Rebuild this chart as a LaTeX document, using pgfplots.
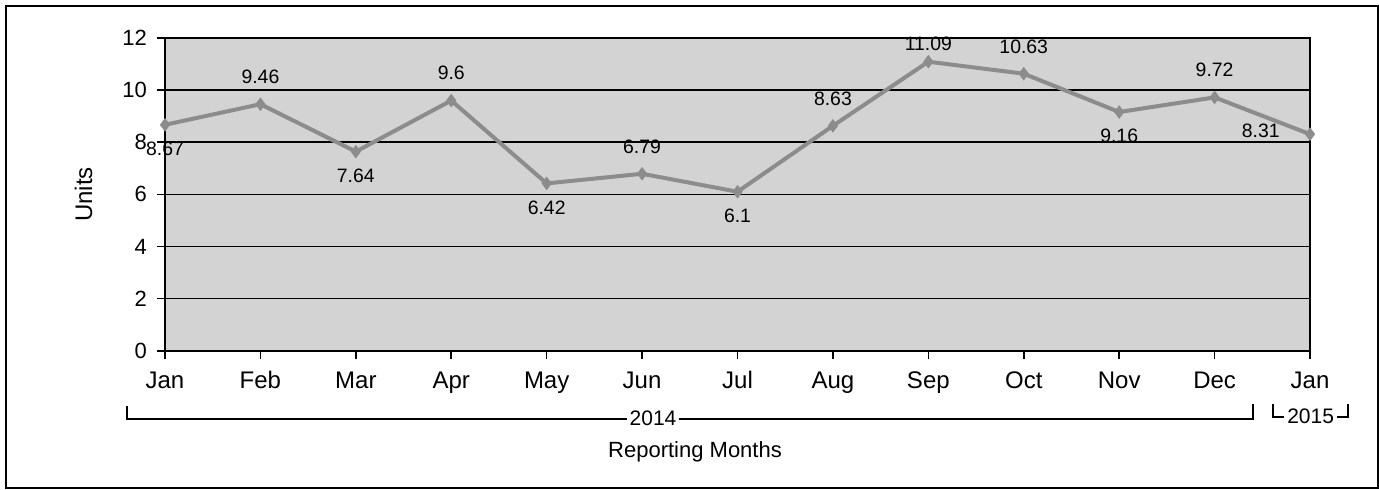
\documentclass[border=0pt]{standalone}
\usepackage{fontspec}
\setmainfont{Liberation Sans}
\usepackage{pgfplots}
\pgfplotsset{compat=1.18}
\definecolor{bgfill}{RGB}{211,211,211}
\definecolor{linegray}{RGB}{140,140,140}
\begin{document}
\begin{tikzpicture}
\useasboundingbox (-82.5pt,-69.15pt) rectangle (607pt,175.35pt);
\draw[line width=1.2pt] (-79.5pt,-68.65pt) rectangle (606.5pt,172.35pt);
\begin{axis}[
  at={(0pt,0pt)}, anchor=south west,
  scale only axis, width=572.5pt, height=156.35pt,
  xmin=0, xmax=12, ymin=0, ymax=12,
  xtick={0,1,...,12}, ytick={0,2,...,12},
  xticklabels={Jan,Feb,Mar,Apr,May,Jun,Jul,Aug,Sep,Oct,Nov,Dec,Jan},
  tick align=outside, major tick length=4pt,
  tick style={black, line width=0.8pt},
  xtick pos=bottom, ytick pos=left,
  axis line style={black, line width=0.9pt},
  ymajorgrids, grid style={black, line width=0.75pt},
  axis background/.style={fill=bgfill},
  /pgf/number format/assume math mode=true,
  yticklabel style={font=\fontsize{11}{13}\selectfont, xshift=-1.5pt},
  xticklabel style={font=\fontsize{12}{14}\selectfont, text height=8.6pt, text depth=2.6pt, yshift=-2.6pt},
  ylabel={Units},
  ylabel style={at={(axis description cs:-0.0712,0.5)}, anchor=center, font=\fontsize{12}{14}\selectfont},
  xlabel={Reporting Months},
  xlabel style={at={(axis description cs:0.4629,0)}, anchor=center, yshift=-50.65pt, font=\fontsize{11}{13}\selectfont},
  clip=false,
]
% main series
\addplot[color=linegray, line width=2pt, mark=diamond*, mark size=3pt,
  mark options={fill=linegray, draw=linegray, line width=0.5pt}]
  coordinates {(0,8.67) (1,9.46) (2,7.64) (3,9.6) (4,6.42) (5,6.79) (6,6.1)
               (7,8.63) (8,11.09) (9,10.63) (10,9.16) (11,9.72) (12,8.31)};
% labels above
\addplot[draw=none, mark=none, point meta=explicit symbolic, nodes near coords,
  every node near coord/.append style={anchor=south, inner sep=0pt, yshift=10pt,
  font=\fontsize{9.7}{11}\selectfont, text=black}]
  coordinates {(1,9.46) [9.46] (3,9.6) [9.6] (5,6.79) [6.79] (7,8.63) [8.63]
               (9,10.63) [10.63] (11,9.72) [9.72]};
% label above (top point, pushed down)
\addplot[draw=none, mark=none, point meta=explicit symbolic, nodes near coords,
  every node near coord/.append style={anchor=south, inner sep=0pt, yshift=5.5pt,
  font=\fontsize{9.7}{11}\selectfont, text=black}]
  coordinates {(8,11.09) [11.09]};
% labels below
\addplot[draw=none, mark=none, point meta=explicit symbolic, nodes near coords,
  every node near coord/.append style={anchor=north, inner sep=0pt, yshift=-8.5pt,
  font=\fontsize{9.7}{11}\selectfont, text=black}]
  coordinates {(0,8.67) [8.67] (2,7.64) [7.64] (4,6.42) [6.42] (6,6.1) [6.1]
               (10,9.16) [9.16]};
% label left
\addplot[draw=none, mark=none, point meta=explicit symbolic, nodes near coords,
  every node near coord/.append style={anchor=base east, inner sep=0pt, xshift=-15pt, yshift=-1.5pt,
  font=\fontsize{9.7}{11}\selectfont, text=black}]
  coordinates {(12,8.31) [8.31]};
\end{axis}
% year brackets
\draw[line width=0.8pt] (-19pt,-27.5pt) -- (-19pt,-34pt) -- (544pt,-34pt) -- (544pt,-26.5pt);
\node[fill=white, inner sep=1.5pt, font=\fontsize{10.5}{12}\selectfont] at (244pt,-34pt) {2014};
\draw[line width=0.8pt] (554pt,-26.5pt) -- (554pt,-33pt) -- (591.5pt,-33pt) -- (591.5pt,-26.5pt);
\node[fill=white, inner sep=1.5pt, font=\fontsize{10.5}{12}\selectfont] at (572.8pt,-32.8pt) {2015};
\end{tikzpicture}
\end{document}
